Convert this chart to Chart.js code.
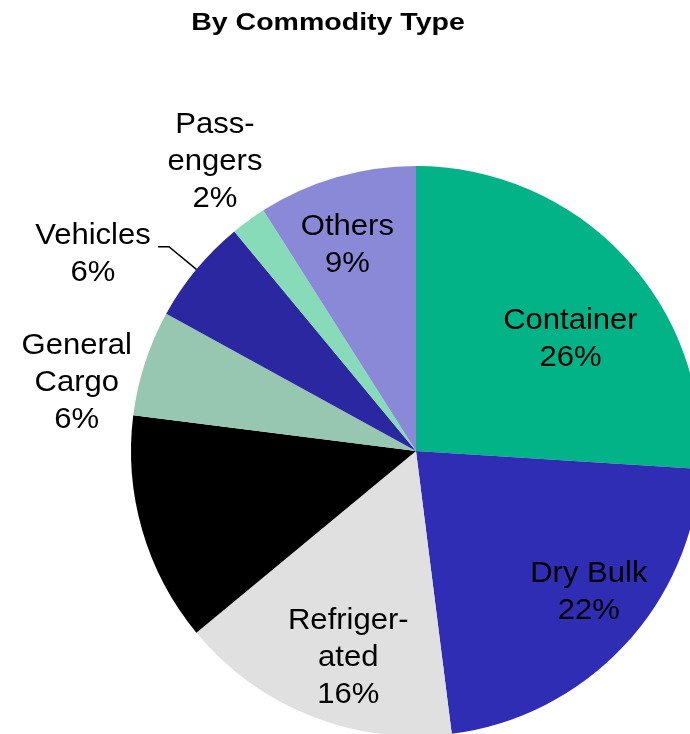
<!DOCTYPE html>
<html>
<head>
<meta charset="utf-8">
<script src="https://cdn.jsdelivr.net/npm/chart.js@4/dist/chart.umd.min.js"></script>
<style>
  html, body { margin: 0; padding: 0; background: #ffffff; overflow: hidden; }
  #wrap { width: 690px; height: 734px; overflow: hidden; position: relative; }
  #pie  { position: absolute; left: 0; top: 0; }
</style>
</head>
<body>
<div id="wrap"><canvas id="pie" width="832" height="902"></canvas></div>
<script>
'use strict';

// --- data ---
const CATEGORIES = ['Container', 'Dry Bulk', 'Refrigerated', 'Other Liquid', 'General Cargo', 'Vehicles', 'Passengers', 'Others'];
const SHARES     = [26, 22, 16, 13, 6, 6, 2, 9];
const LABEL_TEXT = [
    ['Container', '26%'],
    ['Dry Bulk', '22%'],
    ['Refriger-', 'ated', '16%'],
    null,
    ['General', 'Cargo', '6%'],
    ['Vehicles', '6%'],
    ['Pass-', 'engers', '2%'],
    ['Others', '9%'],
];
const TITLE = 'By Commodity Type';

// --- style ---
const COLORS = ['#02b388', '#2e2db4', '#e0e0e0', '#000000', '#97c7b1', '#2a27a0', '#87dbb8', '#8a89d8'];
const FONT   = '"Liberation Sans", Arial, Helvetica, sans-serif';
const LINE_H = 37;
const CAP_H  = 21;
const LABEL_SX = 1.07;   // source text is rendered a little wide
const TITLE_SX = 1.24;

// label placement: radial factor along slice mid angle, then small nudge
const LABEL_POS = [
    { f: 0.70,  dx:  9,  dy:  23 },
    { f: 0.75,  dx: 17,  dy:  -7 },
    { f: 0.75,  dx: 11,  dy:   6 },
    null,
    { f: 1.20,  dx: -14, dy:  35 },
    { f: 1.125, dx: -76, dy:   5, leader: true },
    { f: 1.20,  dx:  0,  dy: -15 },
    { f: 0.75,  dx: -9,  dy:  -3 },
];

function wideText(ctx, text, x, y, sx) {
    ctx.save();
    ctx.translate(x, y);
    ctx.scale(sx, 1);
    ctx.fillText(text, 0, 0);
    ctx.restore();
}

const labelPlugin = {
    id: 'sliceLabels',
    afterDatasetsDraw(chart) {
        const ctx  = chart.ctx;
        const arcs = chart.getDatasetMeta(0).data;
        ctx.save();
        ctx.fillStyle = '#000';
        ctx.textAlign = 'center';
        ctx.textBaseline = 'alphabetic';
        ctx.font = '29px ' + FONT;

        arcs.forEach((arc, i) => {
            const lines = LABEL_TEXT[i];
            const pos   = LABEL_POS[i];
            if (!lines || !pos) return;
            const { x, y, startAngle, endAngle, outerRadius } = arc.getProps(['x', 'y', 'startAngle', 'endAngle', 'outerRadius'], true);
            const mid = (startAngle + endAngle) / 2;
            const cx  = x + Math.cos(mid) * outerRadius * pos.f;
            const cy  = y + Math.sin(mid) * outerRadius * pos.f;

            if (pos.leader) {
                ctx.beginPath();
                ctx.moveTo(x + Math.cos(mid) * outerRadius, y + Math.sin(mid) * outerRadius);
                ctx.lineTo(cx, cy);
                ctx.lineTo(cx - 11, cy);
                ctx.lineWidth = 1.5;
                ctx.strokeStyle = '#000';
                ctx.stroke();
            }

            const bx = cx + pos.dx;
            const by = cy + pos.dy;
            const first = by - ((lines.length - 1) * LINE_H - CAP_H) / 2;
            lines.forEach((t, k) => wideText(ctx, t, bx, first + k * LINE_H, LABEL_SX));
        });
        ctx.restore();
    }
};

const titlePlugin = {
    id: 'fixedTitle',
    afterDraw(chart) {
        const ctx = chart.ctx;
        ctx.save();
        ctx.fillStyle = '#000';
        ctx.font = 'bold 23px ' + FONT;
        ctx.textAlign = 'center';
        ctx.textBaseline = 'alphabetic';
        wideText(ctx, TITLE, 328, 30, TITLE_SX);
        ctx.restore();
    }
};

new Chart(document.getElementById('pie').getContext('2d'), {
    type: 'pie',
    data: {
        labels: CATEGORIES,
        datasets: [{
            data: SHARES,
            backgroundColor: COLORS,
            borderWidth: 0,
        }]
    },
    plugins: [labelPlugin, titlePlugin],
    options: {
        responsive: false,
        animation: false,
        layout: { padding: { left: 131, right: 131, top: 166, bottom: 166 } },
        plugins: {
            legend: { display: false },
            tooltip: { enabled: false },
            title: { display: false }
        }
    }
});
</script>
</body>
</html>
